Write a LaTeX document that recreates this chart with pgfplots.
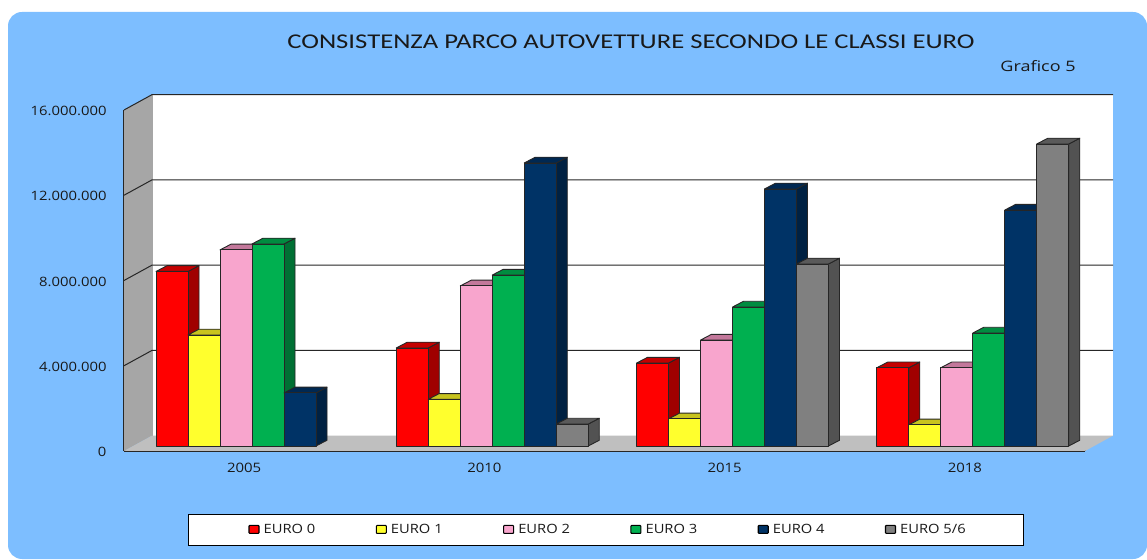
\documentclass[border=0pt]{standalone}
\usepackage{pgfplots}
\pgfplotsset{compat=1.18}
\usepackage{fontspec}
\setmainfont{Open Sans}
\newfontfamily\lab[FakeStretch=1.15]{Open Sans}
\newfontfamily\labb[FakeStretch=1.25]{Open Sans}
\newfontfamily\ttl[FakeStretch=1.27]{Carlito}
\definecolor{bg}{RGB}{125,190,255}
\definecolor{eA}{RGB}{255,0,0}\definecolor{eAs}{RGB}{160,0,0}\definecolor{eAt}{RGB}{196,0,0}
\definecolor{eB}{RGB}{255,255,45}\definecolor{eBs}{RGB}{160,160,20}\definecolor{eBt}{RGB}{200,195,30}
\definecolor{eC}{RGB}{248,165,205}\definecolor{eCs}{RGB}{160,100,130}\definecolor{eCt}{RGB}{195,120,155}
\definecolor{eD}{RGB}{0,176,80}\definecolor{eDs}{RGB}{0,112,52}\definecolor{eDt}{RGB}{0,140,64}
\definecolor{eE}{RGB}{0,51,102}\definecolor{eEs}{RGB}{0,33,66}\definecolor{eEt}{RGB}{0,40,82}
\definecolor{eF}{RGB}{128,128,128}\definecolor{eFs}{RGB}{82,82,82}\definecolor{eFt}{RGB}{90,90,90}
% group, slot, value (millions), colour stem
\newcommand\tdbar[4]{%
 \pgfmathsetmacro\xa{(32+240.25*#1+32*#2)/240.25}%
 \pgfmathsetmacro\xb{\xa+32/240.25}%
 \pgfmathsetmacro\xc{\xb+11/240.25}%
 \pgfmathsetmacro\xd{\xa+11/240.25}%
 \pgfmathsetmacro\ya{0.2346}%
 \pgfmathsetmacro\yb{0.2346+#3}%
 \pgfmathsetmacro\yc{\yb+0.27}%
 \pgfmathsetmacro\yd{\ya+0.27}%
 \addplot[forget plot,draw=black!85,line width=0.9pt,fill=#4s,line join=round] coordinates {(\xb,\ya)(\xc,\yd)(\xc,\yc)(\xb,\yb)} --cycle;
 \addplot[forget plot,draw=black!85,line width=0.9pt,fill=#4t,line join=round] coordinates {(\xa,\yb)(\xb,\yb)(\xc,\yc)(\xd,\yc)} --cycle;
 \addplot[forget plot,draw=black!85,line width=0.9pt,fill=#4,line join=round] coordinates {(\xa,\ya)(\xb,\ya)(\xb,\yb)(\xa,\yb)} --cycle;
}
\begin{document}
\begin{tikzpicture}[x=1pt,y=1pt]
\useasboundingbox (0,0) rectangle (1147,559);
\fill[bg,rounded corners=14pt] (8,0) rectangle (1147,547);
\begin{axis}[
  at={(124pt,108pt)},anchor=south west,
  scale only axis,width=961pt,height=341pt,
  xmin=0,xmax=4,ymin=0,ymax=16,clip=false,
  axis x line*=bottom,axis y line*=left,
  axis line style={black!85,line width=1.1pt,-},
  xtick={0.5,1.5,2.5,3.5},xticklabels={2005,2010,2015,2018},
  minor xtick={0,1,2,3,4},
  ytick={0,4,8,12,16},yticklabels={0,4.000.000,8.000.000,12.000.000,16.000.000},
  tick style={black!85,line width=0.9pt},
  major tick length=6pt,minor tick length=4pt,
  x tick style={draw=none},
  minor x tick style={draw=black!85,line width=0.9pt},
  y tick label style={font=\lab\fontsize{12.9}{14}\selectfont,text=black!90,xshift=-14pt,yshift=-1pt},
  x tick label style={font=\lab\fontsize{13}{14}\selectfont,text=black!90,yshift=-9pt},
  legend columns=6,
  legend cell align=left,
  legend style={at={(64pt,-63pt)},anchor=north west,draw=black,line width=0.9pt,fill=white,
    inner xsep=60pt,inner ysep=8pt,
    font=\lab\fontsize{12.8}{14}\selectfont,text=black!90,
    /tikz/every even column/.append style={column sep=0pt}},
  legend image code/.code={\draw[#1,draw=black,line width=1.1pt,rounded corners=0.8pt] (0pt,-3.6pt) rectangle (10pt,4.4pt);},
]
% walls
\addplot[forget plot,fill=white,draw=none] coordinates {(.1165,.72)(4.1165,.72)(4.1165,16.72)(.1165,16.72)} --cycle;
\addplot[forget plot,fill=black!35,draw=black!35,line width=.8pt] coordinates {(.1165,.72)(.1165,16.72)};
\addplot[forget plot,fill=black!35,draw=none] coordinates {(0,0)(.1165,.72)(.1165,16.72)(0,16)} --cycle;
\addplot[forget plot,fill=black!25,draw=none] coordinates {(0,0)(.1165,.72)(4.1165,.72)(4,0)} --cycle;
% grid lines
\addplot[forget plot,draw=black!85,line width=1pt] coordinates {(0,4)(.1165,4.72)(4.1165,4.72)};
\addplot[forget plot,draw=black!85,line width=1pt] coordinates {(0,8)(.1165,8.72)(4.1165,8.72)};
\addplot[forget plot,draw=black!85,line width=1pt] coordinates {(0,12)(.1165,12.72)(4.1165,12.72)};
\addplot[forget plot,draw=black!85,line width=1pt] coordinates {(0,16)(.1165,16.72)(4.1165,16.72)};
% bars
\tdbar{0}{0}{8.19}{eA}\tdbar{0}{1}{5.21}{eB}\tdbar{0}{2}{9.20}{eC}\tdbar{0}{3}{9.48}{eD}\tdbar{0}{4}{2.49}{eE}
\tdbar{1}{0}{4.60}{eA}\tdbar{1}{1}{2.19}{eB}\tdbar{1}{2}{7.51}{eC}\tdbar{1}{3}{8.02}{eD}\tdbar{1}{4}{13.28}{eE}\tdbar{1}{5}{1.03}{eF}
\tdbar{2}{0}{3.89}{eA}\tdbar{2}{1}{1.27}{eB}\tdbar{2}{2}{4.97}{eC}\tdbar{2}{3}{6.52}{eD}\tdbar{2}{4}{12.06}{eE}\tdbar{2}{5}{8.54}{eF}
\tdbar{3}{0}{3.67}{eA}\tdbar{3}{1}{0.99}{eB}\tdbar{3}{2}{3.67}{eC}\tdbar{3}{3}{5.30}{eD}\tdbar{3}{4}{11.07}{eE}\tdbar{3}{5}{14.17}{eF}
\addlegendimage{fill=eA}\addlegendentry{\makebox[112.2pt][l]{\,EURO 0}}
\addlegendimage{fill=eB}\addlegendentry{\makebox[112.2pt][l]{\,EURO 1}}
\addlegendimage{fill=eC}\addlegendentry{\makebox[112.2pt][l]{\,EURO 2}}
\addlegendimage{fill=eD}\addlegendentry{\makebox[112.2pt][l]{\,EURO 3}}
\addlegendimage{fill=eE}\addlegendentry{\makebox[112.2pt][l]{\,EURO 4}}
\addlegendimage{fill=eF}\addlegendentry{\makebox[63pt][l]{\,EURO 5/6}}
\end{axis}
\node[anchor=center,text=black!90,font=\ttl\fontsize{21}{24}\selectfont] at (631,517) {CONSISTENZA PARCO AUTOVETTURE SECONDO LE CLASSI EURO};
\node[anchor=center,text=black!90,font=\labb\fontsize{14.4}{15}\selectfont] at (1038,493) {Grafico 5};
\end{tikzpicture}
\end{document}
